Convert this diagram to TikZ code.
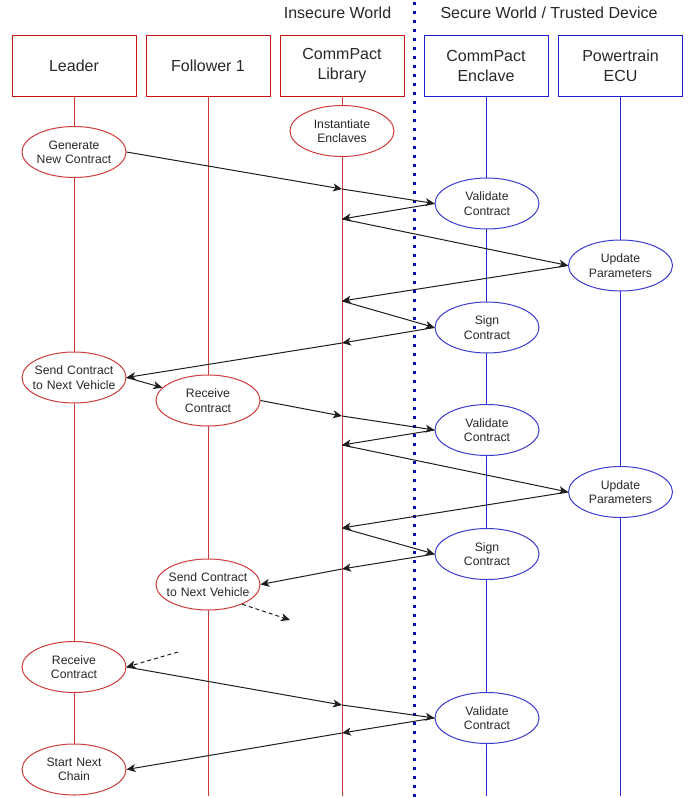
\documentclass[tikz,border=0pt]{standalone}
\usepackage{fontspec}
\setmainfont{Liberation Sans}
\usetikzlibrary{shapes.geometric,arrows.meta}
\definecolor{rboxc}{RGB}{200,20,20}
\definecolor{rlinec}{RGB}{205,60,60}
\definecolor{rellc}{RGB}{205,60,60}
\definecolor{bboxc}{RGB}{30,30,205}
\definecolor{blinec}{RGB}{40,40,210}
\definecolor{bellc}{RGB}{60,60,205}
\definecolor{dotc}{RGB}{10,10,170}
\definecolor{txtc}{RGB}{40,40,40}
\definecolor{arrc}{RGB}{30,30,30}
\newcommand{\evl}[1]{\makebox[50pt][c]{#1}}
\tikzset{
  hdrbox/.style={draw, line width=1pt, fill=white, minimum width=124pt, minimum height=61pt, inner sep=0pt, align=center, text=txtc, font=\fontsize{16}{20}\selectfont},
  redbox/.style={hdrbox, draw=rboxc},
  bluebox/.style={hdrbox, draw=bboxc},
  evt/.style={ellipse, draw, line width=1pt, fill=white, minimum width=104pt, minimum height=51pt, inner sep=0pt, text width=50pt, align=center, text=txtc, font=\fontsize{12.2}{14.3}\selectfont},
  redevt/.style={evt, draw=rellc},
  blueevt/.style={evt, draw=bellc},
  rlife/.style={draw=rlinec, line width=1pt},
  blife/.style={draw=blinec, line width=1pt},
  msg/.style={draw=arrc, line width=1pt, -{Stealth[length=9pt,width=8pt,inset=2.5pt]}},
  dmsg/.style={msg, dashed, dash pattern=on 4pt off 3pt},
  hdrtext/.style={text=txtc, font=\fontsize{16}{19}\selectfont, inner sep=0pt}
}
\begin{document}
\begin{tikzpicture}[x=1pt,y=-1pt]
\useasboundingbox[fill=white] (0,0) rectangle (697,798);
% headers
\node[hdrtext] (insec) at (337.5,13) {Insecure World};
\node[hdrtext] (sec) at (549,13) {Secure World / Trusted Device};
% boxes
\node[redbox] (leader) at (74,65.5) {Leader};
\node[redbox] (fol) at (208,65.5) {Follower 1};
\node[redbox] (lib) at (342,65.5) {CommPact\\Library};
\node[bluebox] (encl) at (486,65.5) {CommPact\\Enclave};
\node[bluebox] (ecu) at (620.5,65.5) {Powertrain\\ECU};
% lifeline ends
\coordinate (leaderEnd) at (74,796);
\coordinate (folEnd) at (208,796);
\coordinate (libEnd) at (342,796);
\coordinate (enclEnd) at (486,796);
\coordinate (ecuEnd) at (620.5,796);
\draw[rlife] (leader.south) -- (leaderEnd);
\draw[rlife] (fol.south) -- (folEnd);
\draw[rlife] (lib.south) -- (libEnd);
\draw[blife] (encl.south) -- (enclEnd);
\draw[blife] (ecu.south) -- (ecuEnd);
% divider
\coordinate (divTop) at (414,2);
\coordinate (divBot) at (414,798);
\draw[dotc, line width=3pt, dash pattern=on 3pt off 6pt] (divTop) -- (divBot);
% events
\node[redevt] (inst) at (342,131) {\evl{Instantiate}\\\evl{Enclaves}};
\node[redevt] (gen) at (74,152) {\evl{Generate}\\\evl{New Contract}};
\node[blueevt] (val1) at (487,203.5) {\evl{Validate}\\\evl{Contract}};
\node[blueevt] (upd1) at (620.5,265.5) {\evl{Update}\\\evl{Parameters}};
\node[blueevt] (sig1) at (487,327.5) {\evl{Sign}\\\evl{Contract}};
\node[redevt] (snd1) at (74,377.5) {\evl{Send Contract}\\\evl{to Next Vehicle}};
\node[redevt] (rcv1) at (208,400.5) {\evl{Receive}\\\evl{Contract}};
\node[blueevt] (val2) at (487,430) {\evl{Validate}\\\evl{Contract}};
\node[blueevt] (upd2) at (620.5,492) {\evl{Update}\\\evl{Parameters}};
\node[blueevt] (sig2) at (487,554) {\evl{Sign}\\\evl{Contract}};
\node[redevt] (snd2) at (208,584.5) {\evl{Send Contract}\\\evl{to Next Vehicle}};
\node[redevt] (rcv2) at (74,667) {\evl{Receive}\\\evl{Contract}};
\node[blueevt] (val3) at (487,718) {\evl{Validate}\\\evl{Contract}};
\node[redevt] (start) at (74,769.5) {\evl{Start Next}\\\evl{Chain}};
% points on the library lifeline
\coordinate (L1) at (342,189);
\coordinate (L2) at (342,219);
\coordinate (L3) at (342,301);
\coordinate (L4) at (342,343);
\coordinate (L5) at (342,416);
\coordinate (L6) at (342,445);
\coordinate (L7) at (342,528);
\coordinate (L8) at (342,569);
\coordinate (L9) at (342,705);
\coordinate (L10) at (342,733);
\coordinate (dEnd1) at (290,620);
\coordinate (dStart2) at (178,652);
% messages
\draw[msg] (gen.east) -- (L1);
\draw[msg] (L1) -- (val1.west);
\draw[msg] (val1.west) -- (L2);
\draw[msg] (L2) -- (upd1.west);
\draw[msg] (upd1.west) -- (L3);
\draw[msg] (L3) -- (sig1.west);
\draw[msg] (sig1.west) -- (L4);
\draw[msg] (L4) -- (snd1.east);
\draw[msg] (snd1.east) -- (rcv1);
\draw[msg] (rcv1.east) -- (L5);
\draw[msg] (L5) -- (val2.west);
\draw[msg] (val2.west) -- (L6);
\draw[msg] (L6) -- (upd2.west);
\draw[msg] (upd2.west) -- (L7);
\draw[msg] (L7) -- (sig2.west);
\draw[msg] (sig2.west) -- (L8);
\draw[msg] (L8) -- (snd2.east);
\draw[dmsg] (snd2.-30) -- (dEnd1);
\draw[dmsg] (dStart2) -- (rcv2.east);
\draw[msg] (rcv2.east) -- (L9);
\draw[msg] (L9) -- (val3.west);
\draw[msg] (val3.west) -- (L10);
\draw[msg] (L10) -- (start.east);
\end{tikzpicture}
\end{document}
